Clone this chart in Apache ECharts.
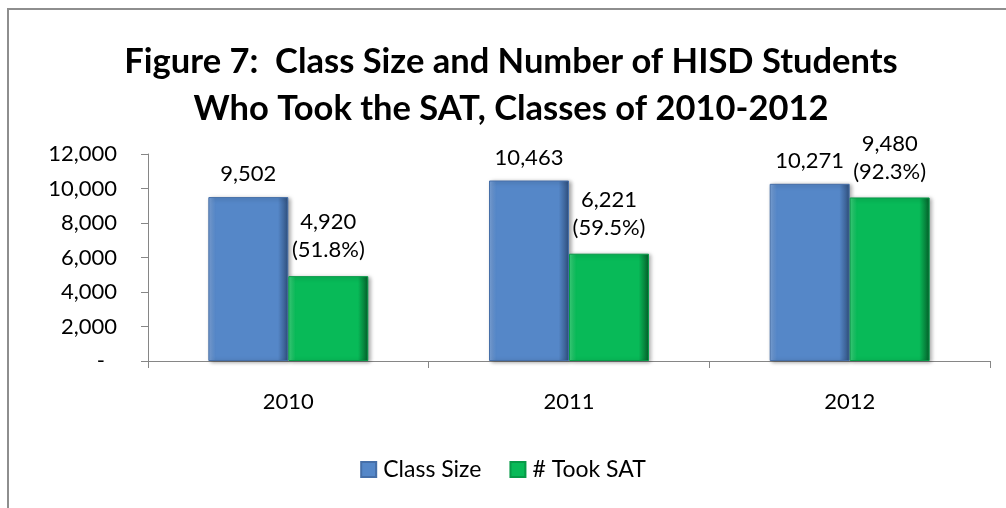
<!DOCTYPE html>
<html>
<head>
<meta charset="utf-8">
<script src="https://cdn.jsdelivr.net/npm/echarts@6/dist/echarts.min.js"></script>
<style>
  html, body { margin: 0; padding: 0; background: #fff; }
  #wrap { position: relative; width: 1006px; height: 508px; overflow: hidden; }
  #frame { position: absolute; left: 7px; top: 8px; width: 1100px; height: 600px;
           border-left: 2px solid #8e8e8e; border-top: 2px solid #8e8e8e; pointer-events: none; }
  #chart { position: absolute; left: 0; top: 0; width: 1006px; height: 508px; }
</style>
</head>
<body>
<div id="wrap">
  <div id="frame"></div>
  <div id="chart"></div>
</div>
<script>
// chart data
const years = ["2010", "2011", "2012"];
const classSize = [9502, 10463, 10271];
const tookSat = [4920, 6221, 9480];
const yTicks = { min: 0, max: 12000, step: 2000 };

const FONT = "Lato, 'Liberation Sans', sans-serif";
const fmt = (v) => v.toLocaleString("en-US");

function bevel(light, main, dark) {
  return new echarts.graphic.LinearGradient(0, 0, 1, 0, [
    { offset: 0, color: light },
    { offset: 0.09, color: main },
    { offset: 0.87, color: main },
    { offset: 1, color: dark },
  ]);
}

const chart = echarts.init(document.getElementById("chart"), null, { renderer: "canvas" });
chart.setOption({
  backgroundColor: "transparent",
  animation: false,
  title: {
    text: "Figure 7:  Class Size and Number of HISD Students\nWho Took the SAT, Classes of 2010-2012",
    left: 506,
    textAlign: "center",
    top: 33,
    textStyle: { fontFamily: FONT, fontWeight: "bold", fontSize: 34.5, lineHeight: 47, color: "#000" },
  },
  grid: { left: 148, right: 16, top: 154, bottom: 147 },
  legend: {
    bottom: 22,
    left: "center",
    itemWidth: 15,
    itemHeight: 15,
    itemGap: 28,
    icon: "rect",
    textStyle: { fontFamily: FONT, fontSize: 23, color: "#000", padding: [0, 0, 0, 2] },
    data: ["Class Size", "# Took SAT"],
  },
  xAxis: {
    type: "category",
    data: years,
    axisLine: { lineStyle: { color: "#868686", width: 1 } },
    axisTick: { show: true, length: 7, lineStyle: { color: "#868686" } },
    axisLabel: { fontFamily: FONT, fontSize: 22, color: "#000", margin: 30 },
  },
  yAxis: {
    type: "value",
    min: yTicks.min,
    max: yTicks.max,
    interval: yTicks.step,
    axisLine: { show: true, lineStyle: { color: "#868686", width: 1 } },
    axisTick: { show: true, length: 7, lineStyle: { color: "#868686" } },
    splitLine: { show: false },
    axisLabel: {
      fontFamily: FONT, fontSize: 22, color: "#000", margin: 31,
      formatter: (v) => (v === 0 ? "{dash|-}" : fmt(v)),
      rich: { dash: { fontFamily: FONT, fontSize: 22, color: "#000", padding: [0, 12, 0, 0] } },
    },
  },
  series: [
    {
      name: "Class Size",
      type: "bar",
      data: classSize,
      barGap: "0%",
      barCategoryGap: "43%",
      itemStyle: {
        color: bevel("#7ea6dc", "#5587c8", "#2f4f7d"),
        borderColor: "#466fa8",
        borderWidth: 1,
        shadowColor: "rgba(0,0,0,0.35)",
        shadowBlur: 4,
        shadowOffsetX: 2,
        shadowOffsetY: 1,
      },
      label: {
        show: true, position: "top", distance: 12,
        fontFamily: FONT, fontSize: 22, color: "#000",
        formatter: (p) => fmt(p.value),
      },
    },
    {
      name: "# Took SAT",
      type: "bar",
      data: tookSat,
      itemStyle: {
        color: bevel("#3ed67e", "#08ba58", "#055e2a"),
        borderColor: "#079a48",
        borderWidth: 1,
        shadowColor: "rgba(0,0,0,0.35)",
        shadowBlur: 4,
        shadowOffsetX: 2,
        shadowOffsetY: 1,
      },
      label: {
        show: true, position: "top", distance: 12, lineHeight: 28,
        fontFamily: FONT, fontSize: 22, color: "#000",
        formatter: (p) => fmt(p.value) + "\n(" + (p.value / classSize[p.dataIndex] * 100).toFixed(1) + "%)",
      },
    },
  ],
});
window.addEventListener("resize", () => chart.resize());
</script>
</body>
</html>
